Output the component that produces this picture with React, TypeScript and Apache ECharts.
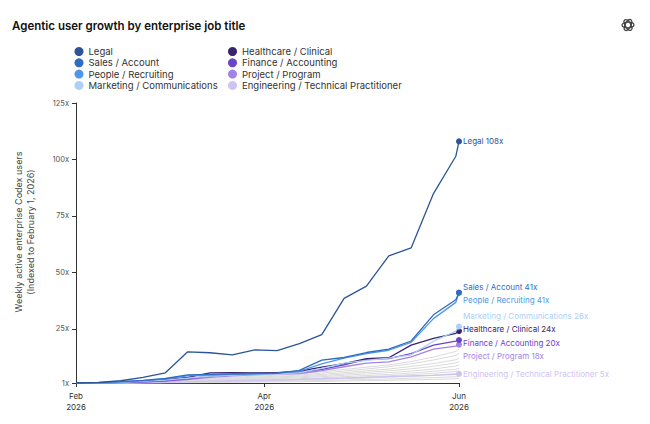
import React, { useEffect, useRef } from 'react'
import * as echarts from 'echarts'

// weekly points, Feb 1 .. Jun 1 2026
const dates = [
  '2026-02-01', '2026-02-08', '2026-02-15', '2026-02-22', '2026-03-01', '2026-03-08',
  '2026-03-15', '2026-03-22', '2026-03-29', '2026-04-05', '2026-04-12', '2026-04-19',
  '2026-04-26', '2026-05-03', '2026-05-10', '2026-05-17', '2026-05-24', '2026-05-31', '2026-06-01',
]

const seriesNames = [
  'Legal',
  'Sales / Account',
  'People / Recruiting',
  'Marketing / Communications',
  'Healthcare / Clinical',
  'Finance / Accounting',
  'Project / Program',
  'Engineering / Technical Practitioner',
]

const seriesColors = ['#2a5597', '#2f6cc2', '#4f97e8', '#acd0f6', '#3a2470', '#6b42cc', '#a283e8', '#cfc3f4']

const legal = [1, 1.3, 2, 3.5, 5.5, 14.8, 14.4, 13.5, 15.7, 15.3, 18.4, 22.4, 38.5, 43.9, 57.3, 60.8, 84.9, 101.4, 108]
const sales = [1, 1.2, 1.6, 2.2, 3, 4.6, 4.8, 5, 5.2, 5.4, 6.6, 11.1, 12.3, 14.5, 16, 19.6, 31.2, 37.9, 41]
const people = [1, 1.2, 1.5, 2, 2.8, 4.2, 4.5, 4.8, 5, 5.3, 6.2, 9.5, 12, 14, 15.5, 19, 29.5, 36.7, 41]
const marketing = [1, 1.1, 1.3, 1.7, 2.3, 3.2, 4, 4.5, 4.8, 5.1, 5.6, 7.5, 9.8, 11, 12, 13.5, 19.5, 24, 26]
const healthcare = [1, 1.1, 1.3, 1.8, 2.5, 3.5, 5.5, 5.6, 5.5, 5.6, 6.2, 8, 9.6, 11.8, 12.2, 17.8, 20.8, 23, 24]
const finance = [1, 1.1, 1.2, 1.5, 2, 2.8, 4, 4.8, 5.2, 5.5, 5.8, 7, 9, 11.5, 11.8, 14, 17.8, 19.5, 20]
const project = [1, 1.1, 1.2, 1.4, 1.8, 2.5, 3.5, 4.2, 4.6, 5, 5.2, 6.5, 8.2, 9.8, 10.4, 12.6, 16, 17.3, 18]
const engineering = [1, 1, 1.1, 1.2, 1.3, 1.5, 1.8, 2, 2.2, 2.4, 2.6, 2.9, 3.2, 3.5, 3.8, 4.1, 4.4, 4.8, 5]

// other job titles (grey, unlabeled)
const otherSeries = [
  [1, 1.1, 1.2, 1.4, 1.7, 2.2, 3, 3.6, 4, 4.5, 5, 6, 7, 8, 9, 10.5, 12.5, 15, 16],
  [1, 1.1, 1.2, 1.3, 1.6, 2, 2.7, 3.2, 3.6, 4, 4.5, 5.4, 6.3, 7.2, 8.2, 9.5, 11.2, 13.2, 14],
  [1, 1, 1.1, 1.3, 1.5, 1.9, 2.4, 2.9, 3.3, 3.7, 4.1, 4.8, 5.6, 6.4, 7.2, 8.3, 9.6, 11.3, 12],
  [1, 1, 1.1, 1.2, 1.4, 1.8, 2.2, 2.6, 3, 3.3, 3.7, 4.3, 5, 5.7, 6.4, 7.3, 8.4, 9.9, 10.5],
  [1, 1, 1.1, 1.2, 1.4, 1.7, 2, 2.4, 2.7, 3, 3.3, 3.8, 4.4, 5, 5.6, 6.3, 7.2, 8.5, 9],
  [1, 1, 1.1, 1.2, 1.3, 1.5, 1.8, 2.1, 2.4, 2.6, 2.9, 3.3, 3.8, 4.3, 4.8, 5.4, 6.2, 7.1, 7.5],
  [1, 1, 1, 1.1, 1.2, 1.4, 1.6, 1.9, 2.1, 2.3, 2.6, 2.9, 3.3, 3.7, 4.2, 4.7, 5.3, 6.1, 6.5],
  [1, 1, 1, 1.1, 1.2, 1.3, 1.5, 1.7, 1.9, 2.1, 2.3, 2.6, 2.9, 3.2, 3.6, 4, 4.5, 5.2, 5.5],
  [1, 1, 1, 1.1, 1.1, 1.2, 1.3, 1.5, 1.6, 1.8, 1.9, 2.1, 2.3, 2.6, 2.8, 3.1, 3.4, 3.8, 4],
  [1, 1, 1, 1, 1.1, 1.1, 1.2, 1.3, 1.4, 1.5, 1.6, 1.7, 1.9, 2, 2.2, 2.4, 2.6, 2.9, 3],
]

const yTicks = [1, 25, 50, 75, 100, 125]
const xTickDates = ['2026-02-01', '2026-04-01', '2026-06-01']
const xTickLabels = ['Feb\n2026', 'Apr\n2026', 'Jun\n2026']
const yAxisTitle = 'Weekly active enterprise Codex users\n(Indexed to February 1, 2026)'

// label nudges so end labels don't collide
const labelOffsets = [0, -6, 7, -11, -2, 3, 11, 0]

const dayOf = (d: string) => (Date.parse(d) - Date.parse(dates[0])) / 86400000

const FONT = 'Inter, "Noto Sans", sans-serif'

const App: React.FC = () => {
  const chartRef = useRef<HTMLDivElement>(null)

  useEffect(() => {
    document.body.style.margin = '0'
    if (!chartRef.current) return
    const chart = echarts.init(chartRef.current, undefined, { renderer: 'svg' })

    const days = dates.map(dayOf)
    const xTickDays = xTickDates.map(dayOf)
    const mainData = [legal, sales, people, marketing, healthcare, finance, project, engineering]

    const greySeries = otherSeries.map((vals, i) => ({
      name: 'other' + i,
      type: 'line',
      symbol: 'none',
      silent: true,
      z: 1,
      lineStyle: { color: '#dadada', width: 1 },
      data: vals.map((v, j) => [days[j], v]),
    }))

    const colored = mainData.map((vals, i) => ({
      name: seriesNames[i],
      type: 'line',
      symbol: 'none',
      showSymbol: true,
      z: 3 + (mainData.length - i),
      itemStyle: { color: seriesColors[i] },
      lineStyle: { color: seriesColors[i], width: 1.3 },
      data: vals.map((v, j) =>
        j === vals.length - 1
          ? { value: [days[j], v], symbol: 'circle', symbolSize: 6 }
          : [days[j], v]
      ),
      endLabel: {
        show: true,
        formatter: (p: any) => `${p.seriesName} ${p.value[1]}x`,
        color: seriesColors[i],
        fontSize: 8,
        fontFamily: FONT,
        distance: 4,
        offset: [0, labelOffsets[i]],
      },
    }))

    const legendBase = {
      orient: 'vertical',
      icon: 'circle',
      itemWidth: 9,
      itemHeight: 9,
      itemGap: 0.3,
      selectedMode: false,
      textStyle: { fontSize: 9.5, color: '#333', fontFamily: FONT, lineHeight: 11 },
    }

    chart.setOption({
      animation: false,
      textStyle: { fontFamily: FONT },
      title: {
        text: 'Agentic user growth by enterprise job title',
        left: 7,
        top: 15,
        textStyle: { fontSize: 11.5, fontWeight: 600, color: '#111', fontFamily: FONT },
      },
      legend: [
        { ...legendBase, data: seriesNames.slice(0, 4), left: 69.5, top: 41 },
        { ...legendBase, data: seriesNames.slice(4), left: 223, top: 41 },
      ],
      grid: { left: 76, right: 191, top: 103, bottom: 41 },
      xAxis: {
        type: 'value',
        min: 0,
        max: xTickDays[xTickDays.length - 1],
        axisLine: { show: true, lineStyle: { color: '#333', width: 1 } },
        axisTick: { show: true, length: 4, customValues: xTickDays, lineStyle: { color: '#333' } },
        splitLine: { show: false },
        axisLabel: {
          customValues: xTickDays,
          formatter: (v: number) => xTickLabels[xTickDays.indexOf(v)] ?? '',
          fontSize: 8,
          lineHeight: 11,
          color: '#333',
          margin: 7,
        },
      },
      yAxis: {
        type: 'value',
        min: yTicks[0],
        max: yTicks[yTicks.length - 1],
        axisLine: { show: true, lineStyle: { color: '#333', width: 1 } },
        axisTick: { show: true, length: 4, customValues: yTicks, lineStyle: { color: '#333' } },
        splitLine: { show: false },
        axisLabel: {
          customValues: yTicks,
          formatter: (v: number) => `${v}x`,
          fontSize: 7.5,
          color: '#555',
          margin: 7,
        },
      },
      graphic: [
        {
          type: 'text',
          x: 24,
          y: 232,
          rotation: Math.PI / 2,
          style: {
            text: yAxisTitle,
            fontSize: 9,
            lineHeight: 12,
            fontFamily: FONT,
            fill: '#444',
            align: 'center',
            verticalAlign: 'middle',
          },
        },
        {
          type: 'group',
          x: 628,
          y: 25,
          children: [0, 1, 2].map(k => ({
            type: 'ellipse',
            rotation: (k * Math.PI) / 3,
            shape: { cx: 0, cy: 0, rx: 6, ry: 2.8 },
            style: { fill: 'none', stroke: '#444', lineWidth: 1.3 },
          })),
        },
      ],
      series: [...greySeries, ...colored],
    })

    return () => {
      chart.dispose()
    }
  }, [])

  return <div ref={chartRef} style={{ width: 650, height: 424 }} />
}

export default App
